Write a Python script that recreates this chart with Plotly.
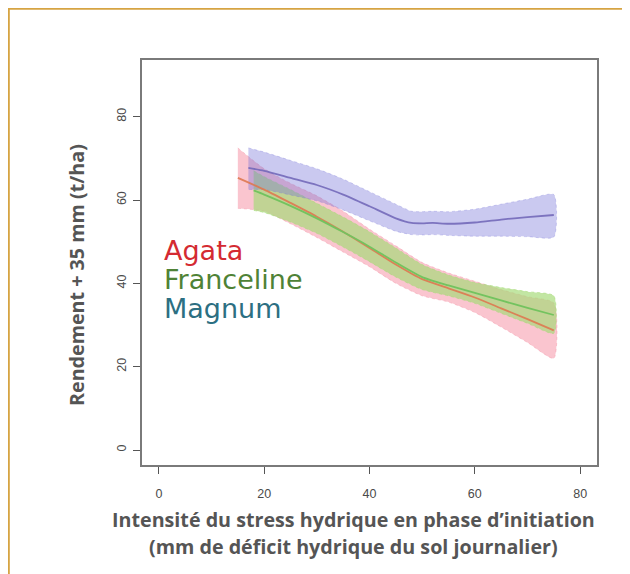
import plotly.graph_objects as go

# ---- data ----
agata_x = [15, 20, 25, 30, 35, 40, 45, 50, 55, 60, 65, 70, 75]
agata_mid = [65.3, 62.5, 59.3, 56.0, 52.4, 48.5, 44.5, 41.0, 38.8, 36.6, 34.0, 31.4, 28.7]
agata_lo = [58.0, 57.3, 54.3, 51.0, 47.5, 44.0, 40.0, 37.0, 35.5, 33.0, 29.5, 25.8, 22.0]
agata_hi = [72.5, 67.5, 64.0, 61.0, 57.3, 53.0, 49.0, 45.0, 42.5, 40.5, 38.5, 36.8, 35.3]

franc_x = [18, 20, 25, 30, 35, 40, 45, 50, 55, 60, 65, 70, 75]
franc_mid = [62.3, 61.3, 58.6, 55.6, 52.3, 48.8, 45.0, 41.5, 39.5, 37.7, 35.9, 34.1, 32.4]
franc_lo = [57.5, 57.0, 54.7, 52.0, 48.7, 45.2, 41.5, 38.5, 37.0, 35.2, 32.8, 30.4, 28.0]
franc_hi = [67.0, 65.6, 62.5, 59.2, 55.9, 52.4, 48.5, 44.5, 42.0, 40.2, 39.0, 38.0, 37.0]

magnum_x = [17, 20, 25, 30, 35, 40, 45, 48, 50, 52, 55, 60, 65, 70, 75]
magnum_mid = [67.7, 67.0, 65.3, 63.6, 61.3, 58.5, 55.6, 54.5, 54.4, 54.5, 54.3, 54.6, 55.3, 55.9, 56.4]
magnum_lo = [62.5, 62.5, 61.2, 59.8, 57.6, 55.0, 52.5, 51.7, 51.6, 51.7, 51.5, 51.3, 51.3, 51.2, 51.1]
magnum_hi = [72.5, 71.5, 69.5, 67.5, 65.0, 62.0, 59.0, 57.3, 57.2, 57.3, 57.2, 57.8, 59.0, 60.2, 61.3]

x_ticks = [0, 20, 40, 60, 80]
y_ticks = [0, 20, 40, 60, 80]

series = [
    ("Agata", agata_x, agata_mid, agata_lo, agata_hi,
     "rgba(246,140,160,0.50)", "rgba(222,120,80,0.9)", "#d42a32"),
    ("Franceline", franc_x, franc_mid, franc_lo, franc_hi,
     "rgba(165,218,120,0.68)", "rgba(115,195,95,1)", "#4f8236"),
    ("Magnum", magnum_x, magnum_mid, magnum_lo, magnum_hi,
     "rgba(115,112,215,0.38)", "rgba(115,105,185,0.9)", "#2c6f82"),
]

fig = go.Figure()
for name, xs, mid, lo, hi, fillc, linec, _ in series:
    fig.add_trace(go.Scatter(
        x=xs + xs[::-1], y=hi + lo[::-1], fill="toself", fillcolor=fillc,
        line=dict(width=0.8, color=fillc, dash="dot", shape="spline", smoothing=0.6),
        mode="lines", hoverinfo="skip", showlegend=False))
for name, xs, mid, lo, hi, fillc, linec, _ in series:
    fig.add_trace(go.Scatter(
        x=xs, y=mid, mode="lines", name=name,
        line=dict(width=1.8, color=linec, shape="spline", smoothing=0.6),
        showlegend=False))

# page has an 8px body margin: work in page pixels and shift
OFF = 8
W, H = 630 - OFF, 574 - OFF
L, R, T, B = 142 - OFF, 597 - OFF, 60 - OFF, 465 - OFF
def px(x):
    return (x - OFF - L) / (R - L)
def py(y):
    return (B - (y - OFF)) / (B - T)

# legend-like labels
for (name, *_rest), ycen in zip(series, [250, 279, 308]):
    color = _rest[-1]
    fig.add_annotation(x=px(162), y=py(ycen), xref="paper", yref="paper",
                       text=name, showarrow=False, xanchor="left", yanchor="middle",
                       font=dict(family="DejaVu Sans", size=27, color=color))

# axis titles
title_font = dict(family="Open Sans", size=19.7, color="#555555", weight="bold")
fig.add_annotation(x=px(76), y=py(275), xref="paper", yref="paper",
                   text="Rendement + 35 mm (t/ha)", textangle=-90, showarrow=False,
                   xanchor="center", yanchor="middle", font=title_font)
fig.add_annotation(x=px(353), y=py(519), xref="paper", yref="paper",
                   text="Intensité du stress hydrique en phase d’initiation", showarrow=False,
                   xanchor="center", yanchor="middle", font=title_font)
fig.add_annotation(x=px(353), y=py(546), xref="paper", yref="paper",
                   text="(mm de déficit hydrique du sol journalier)", showarrow=False,
                   xanchor="center", yanchor="middle", font=title_font)

# gold frame (top and left)
gold = "#D6A443"
fig.add_shape(type="path", xref="paper", yref="paper",
              path=f"M {px(8.9)},{py(600)} L {px(8.9)},{py(8.9)} L {px(660)},{py(8.9)}",
              line=dict(color=gold, width=1.8))

axis_common = dict(
    showgrid=False, zeroline=False, showline=True, mirror=True,
    linecolor="#7a7a7a", linewidth=1.5, ticks="outside", ticklen=7,
    tickcolor="#555555", tickwidth=1,
    tickfont=dict(family="Liberation Sans", size=12.5, color="#4a4a4a"),
)
fig.update_xaxes(range=[-3.2, 83.2], tickvals=x_ticks, ticklabelstandoff=9, **axis_common)
fig.update_yaxes(range=[-3.6, 93.6], tickvals=y_ticks, tickangle=-90, ticklabelstandoff=2,
                 **axis_common)

fig.update_layout(
    width=W, height=H,
    margin=dict(l=L, r=W - R, t=T, b=H - B),
    paper_bgcolor="white", plot_bgcolor="white",
    showlegend=False,
)

fig.write_html("out.html")
